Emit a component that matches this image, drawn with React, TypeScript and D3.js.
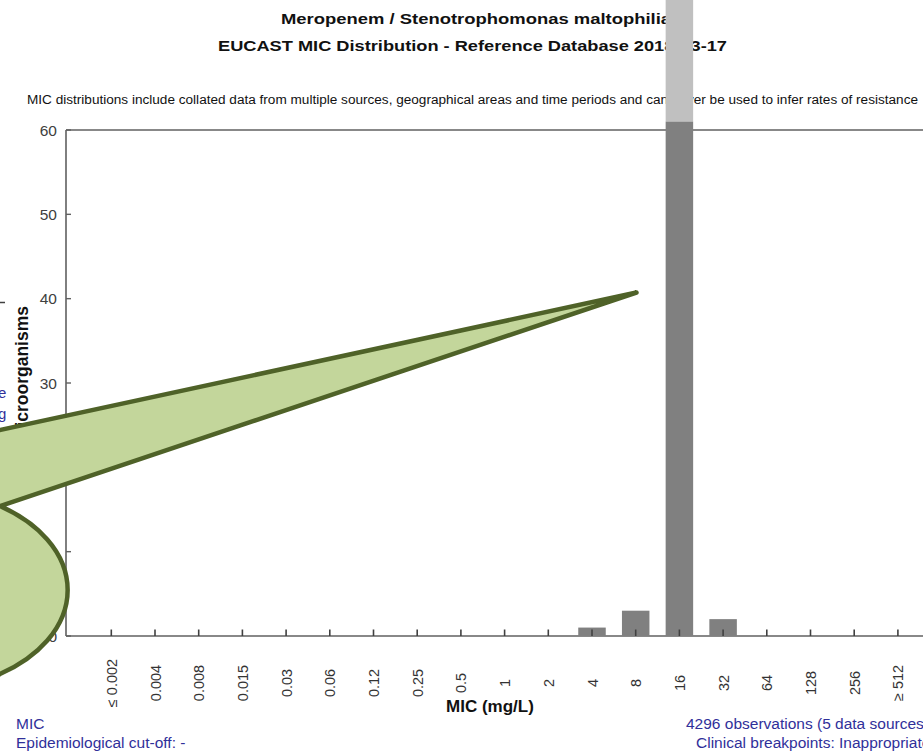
import React from "react";
import * as d3 from "d3";

const categories = ["≤ 0.002", "0.004", "0.008", "0.015", "0.03", "0.06", "0.12", "0.25", "0.5", "1", "2", "4", "8", "16", "32", "64", "128", "256", "≥ 512"];
const values = [0, 0, 0, 0, 0, 0, 0, 0, 0, 0, 0, 1.0, 3.0, 94, 2.0, 0, 0, 0, 0];
const yTicks = [0, 10, 20, 30, 40, 50, 60];
const titleLine1 = "Meropenem / Stenotrophomonas maltophilia";
const titleLine2 = "EUCAST MIC Distribution - Reference Database 2018-03-17";
const subtitle = "MIC distributions include collated data from multiple sources, geographical areas and time periods and can never be used to infer rates of resistance";
const footLeft = ["MIC", "Epidemiological cut-off:  -"];
const footRight = ["4296 observations (5 data sources)", "Clinical breakpoints: Inappropriate"];

const W = 923;
const H = 751;
const FONT = "'Liberation Sans', Arial, sans-serif";
const BLUE = "#30309a";

export default function App() {
  const x = d3.scalePoint<string>().domain(categories).range([111.3, 897.9]);
  const y = d3.scaleLinear().domain([0, 60]).range([636, 130]);
  const barW = 27.5;
  const cap = 61;
  const plotLeft = 66;

  const tip: [number, number] = [636.5, 292.5];
  const calloutPath = `M -60 443 L ${tip[0]} ${tip[1]} L 0 506 A 150 100.5 0 0 1 0 674 L -60 720 Z`;

  return (
    <svg width={W} height={H} style={{ position: "absolute", left: 0, top: 0, background: "#fff" }} fontFamily={FONT}>
      <rect x={0} y={0} width={W} height={H} fill="#fff" />
      {/* titles */}
      <text x={281} y={24} fontSize={15} fontWeight="bold" fill="#111" textLength={390} lengthAdjust="spacingAndGlyphs">{titleLine1}</text>
      <text x={218} y={51} fontSize={15} fontWeight="bold" fill="#111" textLength={509} lengthAdjust="spacingAndGlyphs">{titleLine2}</text>
      <text x={27} y={103.5} fontSize={12} fill="#111" textLength={891} lengthAdjust="spacingAndGlyphs">{subtitle}</text>

      {/* frame */}
      <line x1={plotLeft} x2={W} y1={130} y2={130} stroke="#606060" strokeWidth={1.6} />
      <line x1={plotLeft} x2={W} y1={636} y2={636} stroke="#606060" strokeWidth={1.6} />
      <line x1={plotLeft} x2={plotLeft} y1={130} y2={636} stroke="#606060" strokeWidth={1.6} />

      {/* y ticks */}
      {yTicks.map((t) => (
        <g key={t}>
          <line x1={plotLeft} x2={plotLeft + 5} y1={y(t)} y2={y(t)} stroke="#606060" strokeWidth={1.4} />
          <text x={57} y={y(t) + 5.5} fontSize={15.5} textAnchor="end" fill="#404040">{t}</text>
        </g>
      ))}

      {/* bars */}
      {categories.map((c, i) => {
        const v = values[i];
        if (v <= 0) return null;
        const cx = x(c)!;
        const top = v > 60 ? y(cap) : y(v);
        return (
          <g key={c}>
            {v > 60 && <rect x={cx - barW / 2} y={0} width={barW} height={y(cap)} fill="#c0c0c0" />}
            <rect x={cx - barW / 2} y={top} width={barW} height={636 - top} fill="#808080" />
          </g>
        );
      })}

      {/* x ticks and labels */}
      {categories.map((c) => (
        <g key={"t" + c}>
          <line x1={x(c)!} x2={x(c)!} y1={636} y2={629.5} stroke="#404040" strokeWidth={1.6} />
          <text transform={`translate(${x(c)! + 5.5},683) rotate(-90)`} fontSize={14.5} textAnchor="middle" fill="#333">{c}</text>
        </g>
      ))}

      <text x={490} y={712} fontSize={17} fontWeight="bold" textAnchor="middle" fill="#111">MIC (mg/L)</text>
      <text transform="translate(27.5,306) rotate(-90)" fontSize={17.5} fontWeight="bold" textAnchor="end" fill="#111">No. of microorganisms</text>

      {/* left remnants */}
      <line x1={0} x2={5} y1={302.5} y2={302.5} stroke="#404040" strokeWidth={1.5} />
      <text x={-2} y={398} fontSize={15} fill={BLUE}>e</text>
      <text x={-2} y={419} fontSize={15} fill={BLUE}>g</text>

      {/* footers */}
      <text x={16} y={729} fontSize={15.5} fill={BLUE}>{footLeft[0]}</text>
      <text x={16} y={747.5} fontSize={15.5} fill={BLUE}>{footLeft[1]}</text>
      <text x={686} y={729} fontSize={15.5} fill={BLUE}>{footRight[0]}</text>
      <text x={696} y={747.5} fontSize={15.5} fill={BLUE}>{footRight[1]}</text>

      {/* callout */}
      <path d={calloutPath} fill="#c3d69b" stroke="#4f6228" strokeWidth={4.5} strokeLinejoin="round" />
    </svg>
  );
}
